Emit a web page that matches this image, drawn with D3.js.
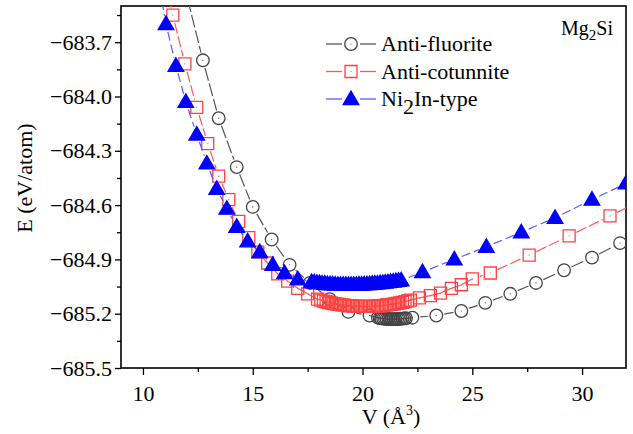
<!DOCTYPE html>
<html>
<head>
<meta charset="utf-8">
<script src="https://cdn.jsdelivr.net/npm/d3@7"></script>
<style>
    body { margin: 0; background: #fff; }
    text { font-family: "Liberation Serif", "Times New Roman", serif; fill: #000; }
</style>
</head>
<body>
<div id="chart" style="width:633px;height:434px;"></div>
<script>
// Anti-fluorite (open circles)
const fluoriteV = [11.95, 12.73, 13.45, 14.27, 15.00, 15.86, 16.68, 17.60, 18.50, 19.36, 20.32,
    20.70, 20.78, 20.86, 20.94, 21.02, 21.10, 21.18, 21.26, 21.34, 21.42, 21.50, 21.58, 21.66,
    21.74, 21.82, 21.90, 21.98, 22.27, 23.36, 24.50, 25.59, 26.73, 27.90, 29.18, 30.45, 31.73, 33.00];
const fluoriteE = [-683.42, -683.80, -684.12, -684.39, -684.61, -684.79, -684.93, -685.03, -685.12, -685.19, -685.21,
    -685.222, -685.224, -685.226, -685.227, -685.228, -685.229, -685.229, -685.230, -685.230, -685.230, -685.230, -685.229, -685.229,
    -685.228, -685.227, -685.226, -685.225, -685.222, -685.21, -685.185, -685.14, -685.09, -685.03, -684.96, -684.89, -684.81, -684.72];

// Anti-cotunnite (open squares)
const cotunniteV = [10.85, 11.36, 11.91, 12.45, 12.95, 13.45, 13.91, 14.36, 14.82, 15.23, 15.68, 16.14, 16.59, 17.05, 17.50, 17.95,
    18.10, 18.22, 18.34, 18.46, 18.58, 18.70, 18.82, 18.94, 19.06, 19.18, 19.30, 19.42, 19.54, 19.66, 19.78, 19.90,
    20.02, 20.14, 20.26, 20.38, 20.50, 20.62, 20.74, 20.86, 20.98, 21.10, 21.22, 21.34, 21.46, 21.58, 21.70, 21.82,
    21.94, 22.06, 22.18, 22.59, 23.09, 23.55, 24.05, 24.50, 25.00, 25.82, 27.59, 29.41, 31.27, 33.10];
const cotunniteE = [-683.30, -683.55, -683.82, -684.06, -684.26, -684.44, -684.57, -684.69, -684.78, -684.86, -684.92, -684.98, -685.02, -685.06, -685.09, -685.12,
    -685.125, -685.130, -685.134, -685.138, -685.141, -685.144, -685.147, -685.149, -685.151, -685.153, -685.155, -685.156, -685.157, -685.158, -685.159, -685.159,
    -685.160, -685.160, -685.160, -685.159, -685.159, -685.158, -685.157, -685.156, -685.154, -685.152, -685.150, -685.148, -685.146, -685.143, -685.140, -685.137,
    -685.133, -685.129, -685.125, -685.113, -685.10, -685.086, -685.06, -685.04, -685.008, -684.975, -684.876, -684.77, -684.66, -684.55];

// Ni2In-type (filled triangles)
const ni2inV = [10.70, 11.05, 11.50, 11.95, 12.45, 12.91, 13.36, 13.82, 14.27, 14.77, 15.32, 15.91, 16.45, 17.05, 17.68,
    17.80, 17.92, 18.04, 18.16, 18.28, 18.40, 18.52, 18.64, 18.76, 18.88, 19.00, 19.12, 19.24, 19.36, 19.48, 19.60,
    19.72, 19.84, 19.96, 20.08, 20.20, 20.32, 20.44, 20.56, 20.68, 20.80, 20.92, 21.04, 21.16, 21.28, 21.40, 21.52,
    21.64, 21.76, 22.73, 24.18, 25.64, 27.23, 28.77, 30.45, 32.00];
const ni2inE = [-683.36, -683.60, -683.83, -684.03, -684.21, -684.37, -684.51, -684.62, -684.72, -684.80, -684.86, -684.93, -684.975, -685.01, -685.025,
    -685.027, -685.029, -685.031, -685.033, -685.034, -685.036, -685.037, -685.038, -685.039, -685.040, -685.040, -685.041, -685.041, -685.041, -685.041, -685.040,
    -685.040, -685.039, -685.039, -685.038, -685.037, -685.036, -685.035, -685.034, -685.033, -685.031, -685.030, -685.028, -685.026, -685.024, -685.022, -685.020,
    -685.018, -685.016, -684.97, -684.90, -684.83, -684.75, -684.67, -684.57, -684.48];

const xTicks = [10, 15, 20, 25, 30];
const xMinorTicks = [12.5, 17.5, 22.5, 27.5];
const yTicks = [-685.5, -685.2, -684.9, -684.6, -684.3, -684.0, -683.7];
const yMinorTicks = [-685.35, -685.05, -684.75, -684.45, -684.15, -683.85, -683.55];
const seriesNames = ["Anti-fluorite", "Anti-cotunnite", "Ni2In-type"];

class EVChart {
    constructor(parentElement) {
        this.parentElement = parentElement;
        this.initVis();
    }

    initVis() {
        let vis = this;

        vis.margin = {top: 6, right: 7, bottom: 66, left: 121};
        vis.width = 633 - vis.margin.left - vis.margin.right;
        vis.height = 434 - vis.margin.top - vis.margin.bottom;

        vis.svg = d3.select("#" + vis.parentElement).append("svg")
            .attr("width", 633)
            .attr("height", 434)
            .append("g")
            .attr("transform", "translate(" + vis.margin.left + "," + vis.margin.top + ")");

        vis.x = d3.scaleLinear().domain([9, 32]).range([0, vis.width]);
        vis.y = d3.scaleLinear().domain([-685.5, -683.5]).range([vis.height, 0]);

        vis.svg.append("clipPath").attr("id", "plot-clip")
            .append("rect").attr("width", vis.width).attr("height", vis.height);

        vis.series = [
            {name: seriesNames[0], V: fluoriteV, E: fluoriteE, marker: "circle",
                line: "#555", stroke: "#444", fill: "none", dash: "13,3"},
            {name: seriesNames[1], V: cotunniteV, E: cotunniteE, marker: "square",
                line: "#ff5a5a", stroke: "#ff4040", fill: "none", dash: "11,3"},
            {name: seriesNames[2], V: ni2inV, E: ni2inE, marker: "triangle",
                line: "#5a5aff", stroke: "#0000ff", fill: "#0000ff", dash: "9,4"}
        ];

        vis.drawAxes();
        vis.drawSeries();
        vis.drawLegend();
    }

    markerPath(type) {
        if (type === "circle") return d3.symbol().type(d3.symbolCircle).size(Math.PI * 6.3 * 6.3)();
        if (type === "square") return "M-6,-6H6V6H-6Z";
        return "M0,-8L7.8,5.5L-7.8,5.5Z";
    }

    drawAxes() {
        let vis = this;
        let fmt = d3.format(".1f");

        let yAxis = vis.svg.append("g")
            .call(d3.axisLeft(vis.y).tickValues(yTicks).tickFormat(fmt).tickSize(6).tickPadding(3));
        vis.svg.append("g")
            .call(d3.axisLeft(vis.y).tickValues(yMinorTicks).tickFormat("").tickSize(4));

        let xAxis = vis.svg.append("g")
            .attr("transform", "translate(0," + vis.height + ")")
            .call(d3.axisBottom(vis.x).tickValues(xTicks).tickSize(7).tickPadding(10));
        vis.svg.append("g")
            .attr("transform", "translate(0," + vis.height + ")")
            .call(d3.axisBottom(vis.x).tickValues(xMinorTicks).tickFormat("").tickSize(4));

        vis.svg.selectAll(".domain").remove();
        vis.svg.selectAll(".tick line").attr("stroke", "#000").attr("stroke-width", 1.3);
        vis.svg.selectAll(".tick text").attr("font-size", 22).attr("fill", "#000")
            .attr("font-family", "Liberation Serif, Times New Roman, serif");

        // frame
        vis.svg.append("rect")
            .attr("width", vis.width)
            .attr("height", vis.height)
            .attr("fill", "none")
            .attr("stroke", "#000")
            .attr("stroke-width", 1.6);

        // axis titles
        let xt = vis.svg.append("text")
            .attr("x", 270)
            .attr("y", 418)
            .attr("text-anchor", "middle")
            .attr("font-size", 22);
        xt.append("tspan").text("V (Å");
        xt.append("tspan").attr("dy", -9).attr("font-size", 14).text("3");
        xt.append("tspan").attr("dy", 9).text(")");

        vis.svg.append("text")
            .attr("transform", "translate(" + (32 - vis.margin.left) + "," + (178 - vis.margin.top) + ") rotate(-90)")
            .attr("text-anchor", "middle")
            .attr("font-size", 22)
            .text("E (eV/atom)");

        let mg = vis.svg.append("text")
            .attr("x", 613 - vis.margin.left)
            .attr("y", 35 - vis.margin.top)
            .attr("text-anchor", "end")
            .attr("font-size", 20);
        mg.append("tspan").text("Mg");
        mg.append("tspan").attr("dy", 5).attr("font-size", 15).text("2");
        mg.append("tspan").attr("dy", -5).text("Si");
    }

    drawSeries() {
        let vis = this;
        let plot = vis.svg.append("g").attr("clip-path", "url(#plot-clip)");

        vis.series.forEach(s => {
            let pts = s.V.map((v, i) => [vis.x(v), vis.y(s.E[i])]);
            let g = plot.append("g").attr("class", "series");
            let gap = 8;

            // connecting segments, leaving a gap around each symbol
            for (let i = 0; i < pts.length - 1; i++) {
                let [x0, y0] = pts[i], [x1, y1] = pts[i + 1];
                let len = Math.hypot(x1 - x0, y1 - y0);
                let ux = (x1 - x0) / len, uy = (y1 - y0) / len;
                let g0 = len > 2 * gap + 2 ? gap : 0;
                g.append("line")
                    .attr("x1", x0 + ux * g0).attr("y1", y0 + uy * g0)
                    .attr("x2", x1 - ux * g0).attr("y2", y1 - uy * g0)
                    .attr("stroke", s.line)
                    .attr("stroke-width", 1.2)
                    .attr("stroke-dasharray", g0 ? s.dash : null);
            }

            g.selectAll(".mark")
                .data(pts)
                .enter()
                .append("path")
                .attr("class", "mark")
                .attr("transform", d => "translate(" + d[0] + "," + d[1] + ")")
                .attr("d", vis.markerPath(s.marker))
                .attr("fill", s.fill)
                .attr("stroke", s.stroke)
                .attr("stroke-width", 1.3);

            if (s.fill === "none") {
                g.selectAll(".dot")
                    .data(pts)
                    .enter()
                    .append("circle")
                    .attr("cx", d => d[0])
                    .attr("cy", d => d[1])
                    .attr("r", 0.6)
                    .attr("fill", s.stroke);
            }
        });
    }

    drawLegend() {
        let vis = this;
        let lg = vis.svg.append("g")
            .attr("transform", "translate(" + (326 - vis.margin.left) + ",0)");

        vis.series.forEach((s, i) => {
            let cy = 44 - vis.margin.top + i * 27.5;
            let row = lg.append("g").attr("transform", "translate(0," + cy + ")");
            row.append("line").attr("x1", 0).attr("x2", 16).attr("stroke", s.line).attr("stroke-width", 1.3);
            row.append("line").attr("x1", 34).attr("x2", 50).attr("stroke", s.line).attr("stroke-width", 1.3);
            row.append("path")
                .attr("transform", "translate(25,0)")
                .attr("d", vis.markerPath(s.marker))
                .attr("fill", s.fill)
                .attr("stroke", s.stroke)
                .attr("stroke-width", 1.3);
            if (s.fill === "none") {
                row.append("circle").attr("cx", 25).attr("r", 0.6).attr("fill", s.stroke);
            }

            let t = row.append("text").attr("x", 55).attr("y", 7).attr("font-size", 22);
            if (i === 2) {
                t.append("tspan").text("Ni");
                t.append("tspan").attr("dy", 8).text("2");
                t.append("tspan").attr("dy", -8).text("In-type");
            } else {
                t.text(s.name);
            }
        });
    }
}

new EVChart("chart");
</script>
</body>
</html>
